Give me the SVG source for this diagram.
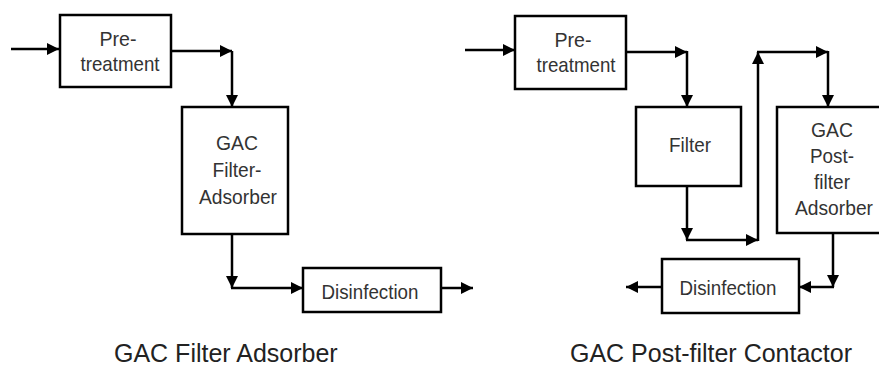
<svg xmlns="http://www.w3.org/2000/svg" width="879" height="368" viewBox="0 0 879 368">
  <defs>
    <marker id="arrow" markerUnits="userSpaceOnUse" markerWidth="13" markerHeight="13" refX="12" refY="6.5" orient="auto">
      <path d="M0,0.5 L12,6.5 L0,12.5 z" fill="#000"/>
    </marker>
    <style>
      .box { fill: #fff; stroke: #000; stroke-width: 2.5; }
      .lbl { font-family: "Liberation Sans", Arial, sans-serif; font-size: 21px; fill: #333; text-anchor: middle; }
      .cap { font-family: "Liberation Sans", Arial, sans-serif; font-size: 25px; fill: #222; }
      .conn path { fill: none; stroke: #000; stroke-width: 2.5; marker-end: url(#arrow); }
    </style>
  </defs>
  <rect width="879" height="368" fill="#fff"/>

  <g id="connectors" class="conn">
    <path d="M11,49 H59"/>
    <path d="M171,51 H232"/>
    <path d="M232,51 V107"/>
    <path d="M232,234 V288"/>
    <path d="M231,288 H303"/>
    <path d="M441,288 H473"/>

    <path d="M465,50 H515"/>
    <path d="M626,52 H687"/>
    <path d="M687,51 V107"/>
    <path d="M687,186 V240"/>
    <path d="M686,240 H758"/>
    <path d="M758,241 V52"/>
    <path d="M757,52 H828"/>
    <path d="M828,51 V107"/>
    <path d="M833,233 V287"/>
    <path d="M834,287 H799"/>
    <path d="M662,287 H626"/>
  </g>

  <g id="pretreatment-1">
    <rect class="box" x="60" y="15" width="111" height="72"/>
    <text class="lbl" x="118" y="46" textLength="37" lengthAdjust="spacingAndGlyphs">Pre-</text>
    <text class="lbl" x="120" y="71" textLength="79" lengthAdjust="spacingAndGlyphs">treatment</text>
  </g>
  <g id="gac-filter-adsorber">
    <rect class="box" x="182" y="107" width="106" height="127"/>
    <text class="lbl" x="237" y="150" textLength="42" lengthAdjust="spacingAndGlyphs">GAC</text>
    <text class="lbl" x="237" y="177" textLength="49" lengthAdjust="spacingAndGlyphs">Filter-</text>
    <text class="lbl" x="238" y="204" textLength="78" lengthAdjust="spacingAndGlyphs">Adsorber</text>
  </g>
  <g id="disinfection-1">
    <rect class="box" x="303" y="268" width="138" height="44"/>
    <text class="lbl" x="370" y="299" textLength="97" lengthAdjust="spacingAndGlyphs">Disinfection</text>
  </g>

  <g id="pretreatment-2">
    <rect class="box" x="515" y="16" width="111" height="73"/>
    <text class="lbl" x="573" y="47" textLength="37" lengthAdjust="spacingAndGlyphs">Pre-</text>
    <text class="lbl" x="576" y="72" textLength="79" lengthAdjust="spacingAndGlyphs">treatment</text>
  </g>
  <g id="filter">
    <rect class="box" x="636" y="107" width="105" height="79"/>
    <text class="lbl" x="690" y="152" textLength="42" lengthAdjust="spacingAndGlyphs">Filter</text>
  </g>
  <g id="gac-postfilter-adsorber">
    <rect class="box" x="777" y="107" width="110" height="126"/>
    <text class="lbl" x="832" y="137" textLength="42" lengthAdjust="spacingAndGlyphs">GAC</text>
    <text class="lbl" x="832" y="163" textLength="44" lengthAdjust="spacingAndGlyphs">Post-</text>
    <text class="lbl" x="832" y="189" textLength="36" lengthAdjust="spacingAndGlyphs">filter</text>
    <text class="lbl" x="834" y="215" textLength="78" lengthAdjust="spacingAndGlyphs">Adsorber</text>
  </g>
  <g id="disinfection-2">
    <rect class="box" x="662" y="259" width="137" height="54"/>
    <text class="lbl" x="728" y="295" textLength="97" lengthAdjust="spacingAndGlyphs">Disinfection</text>
  </g>

  <g id="captions">
    <text class="cap" x="114" y="362">GAC Filter Adsorber</text>
    <text class="cap" x="570" y="362">GAC Post-filter Contactor</text>
  </g>
</svg>
